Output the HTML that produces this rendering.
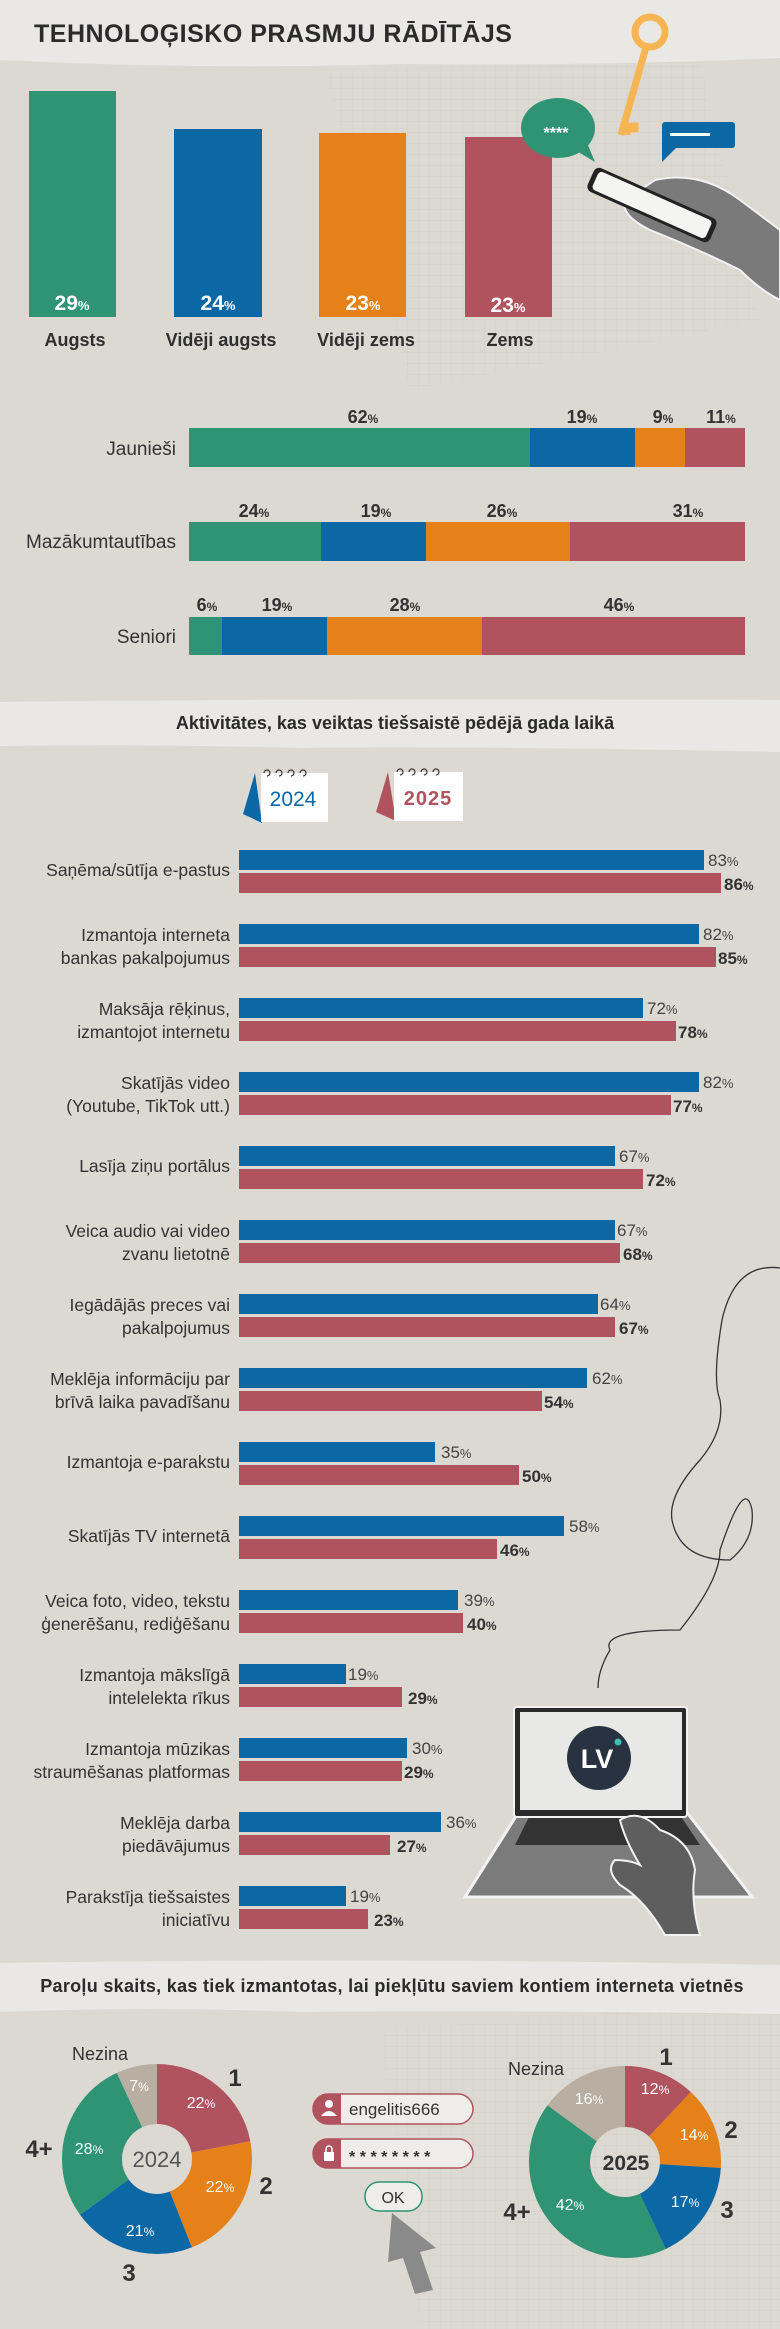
<!DOCTYPE html>
<html><head><meta charset="utf-8"><style>
html,body{margin:0;padding:0;background:#dcd9d2}
svg{display:block}
text{font-family:"Liberation Sans",sans-serif}
</style></head><body>
<svg width="780" height="2329" viewBox="0 0 780 2329" xmlns="http://www.w3.org/2000/svg">
<defs>
<pattern id="grid" width="11" height="11" patternUnits="userSpaceOnUse"><path d="M11 0H0V11" fill="none" stroke="#c9c6bf" stroke-width="0.7"/></pattern>
</defs>
<rect width="780" height="2329" fill="#dcd9d2"/>
<polygon points="325,70 700,62 760,320 410,390" fill="url(#grid)" opacity="0.7"/>
<polygon points="380,2030 780,2000 780,2329 420,2329" fill="url(#grid)" opacity="0.6"/>
<path d="M0 0H780V58Q600 66 400 64Q200 70 0 60Z" fill="#e9e8e4"/>
<text x="34" y="42" font-size="25" font-weight="bold" fill="#2b2b2b" letter-spacing="0.5">TEHNOLOĢISKO PRASMJU RĀDĪTĀJS</text>

<rect x="29" y="91" width="87" height="226" fill="#2e9474"/>
<rect x="174" y="129" width="88" height="188" fill="#0c67a5"/>
<rect x="319" y="133" width="87" height="184" fill="#e58119"/>
<rect x="465" y="137" width="87" height="180" fill="#b0535f"/>
<g font-size="21" font-weight="bold" fill="#fff" text-anchor="middle">
<text x="72" y="310">29<tspan font-size="13">%</tspan></text>
<text x="218" y="310">24<tspan font-size="13">%</tspan></text>
<text x="363" y="310">23<tspan font-size="13">%</tspan></text>
<text x="508" y="312">23<tspan font-size="13">%</tspan></text>
</g>
<g font-size="18" font-weight="bold" fill="#2f2f2f" text-anchor="middle">
<text x="75" y="346">Augsts</text>
<text x="221" y="346">Vidēji augsts</text>
<text x="366" y="346">Vidēji zems</text>
<text x="510" y="346">Zems</text>
</g>
<g>
<circle cx="650" cy="32" r="15" fill="none" stroke="#f6b552" stroke-width="7"/>
<path d="M646 47 L621 135" stroke="#f6b552" stroke-width="7"/>
<path d="M624 125h12v5h-8v5" fill="none" stroke="#f6b552" stroke-width="5"/>
<ellipse cx="558" cy="128" rx="37" ry="30" fill="#2e9474"/>
<path d="M575 150 L595 162 L585 138Z" fill="#2e9474"/>
<text x="556" y="138" font-size="16" font-weight="bold" fill="#fff" text-anchor="middle">****</text>
<rect x="662" y="122" width="73" height="26" rx="3" fill="#0c67a5"/>
<path d="M662 145 L662 162 L676 148Z" fill="#0c67a5"/>
<rect x="670" y="133" width="40" height="3" fill="#fff"/>
<path d="M655 180 Q700 170 740 200 L780 230 L780 300 Q760 290 740 270 Q700 250 650 230 Q620 215 625 200Z" fill="#7a7a7a" stroke="#f2f2f2" stroke-width="2"/>
<g transform="rotate(24 652 205)"><rect x="585" y="192" width="134" height="26" rx="6" fill="#222"/><rect x="590" y="195" width="124" height="20" rx="4" fill="#f4f4f2"/></g>
</g>

<g font-size="19" fill="#333" text-anchor="end">
<text x="176" y="455">Jaunieši</text>
<text x="176" y="548">Mazākumtautības</text>
<text x="176" y="643">Seniori</text>
</g>
<rect x="189" y="428" width="341" height="39" fill="#2e9474"/>
<rect x="530" y="428" width="105" height="39" fill="#0c67a5"/>
<rect x="635" y="428" width="50" height="39" fill="#e58119"/>
<rect x="685" y="428" width="60" height="39" fill="#b0535f"/>
<rect x="189" y="522" width="132" height="39" fill="#2e9474"/>
<rect x="321" y="522" width="105" height="39" fill="#0c67a5"/>
<rect x="426" y="522" width="144" height="39" fill="#e58119"/>
<rect x="570" y="522" width="175" height="39" fill="#b0535f"/>
<rect x="189" y="617" width="33" height="38" fill="#2e9474"/>
<rect x="222" y="617" width="105" height="38" fill="#0c67a5"/>
<rect x="327" y="617" width="155" height="38" fill="#e58119"/>
<rect x="482" y="617" width="263" height="38" fill="#b0535f"/>
<g font-size="18" font-weight="bold" fill="#333" text-anchor="middle">
<text x="363" y="423">62<tspan font-size="12">%</tspan></text>
<text x="582" y="423">19<tspan font-size="12">%</tspan></text>
<text x="663" y="423">9<tspan font-size="12">%</tspan></text>
<text x="721" y="423">11<tspan font-size="12">%</tspan></text>
<text x="254" y="517">24<tspan font-size="12">%</tspan></text>
<text x="376" y="517">19<tspan font-size="12">%</tspan></text>
<text x="502" y="517">26<tspan font-size="12">%</tspan></text>
<text x="688" y="517">31<tspan font-size="12">%</tspan></text>
<text x="207" y="611">6<tspan font-size="12">%</tspan></text>
<text x="277" y="611">19<tspan font-size="12">%</tspan></text>
<text x="405" y="611">28<tspan font-size="12">%</tspan></text>
<text x="619" y="611">46<tspan font-size="12">%</tspan></text>
</g>

<path d="M0 702Q300 698 780 700V752Q500 746 300 748Q150 744 0 746Z" fill="#e9e8e4"/>
<text x="395" y="729" font-size="18" font-weight="bold" fill="#2b2b2b" text-anchor="middle">Aktivitātes, kas veiktas tiešsaistē pēdējā gada laikā</text>
<path d="M255 773 L243 814 L262 823Z" fill="#0c67a5"/>
<rect x="261" y="773" width="67" height="49" fill="#fff"/>
<g fill="none" stroke="#333" stroke-width="1.2"><path d="M264 773a3 3 0 1 1 3 3M276 773a3 3 0 1 1 3 3M288 773a3 3 0 1 1 3 3M300 773a3 3 0 1 1 3 3"/></g>
<text x="293" y="806" font-size="21" fill="#0c67a5" text-anchor="middle">2024</text>
<path d="M388 772 L376 812 L396 821Z" fill="#b0535f"/>
<rect x="394" y="772" width="69" height="49" fill="#fff"/>
<g fill="none" stroke="#333" stroke-width="1.2"><path d="M397 772a3 3 0 1 1 3 3M409 772a3 3 0 1 1 3 3M421 772a3 3 0 1 1 3 3M433 772a3 3 0 1 1 3 3"/></g>
<text x="428" y="805" font-size="20" font-weight="bold" fill="#b0535f" text-anchor="middle" letter-spacing="1">2025</text>

<path d="M780 1268 Q735 1262 722 1320 Q712 1380 720 1400 Q725 1430 700 1460 Q668 1495 672 1520 Q680 1560 730 1560 Q755 1540 752 1510 Q745 1475 720 1550 Q720 1580 680 1630 Q600 1630 610 1650 Q598 1670 598 1688" fill="none" stroke="#333" stroke-width="1.3"/>

<g font-size="17.5" fill="#333" text-anchor="end">
<text x="230" y="876">Saņēma/sūtīja e-pastus</text>
<text x="230" y="941">Izmantoja interneta</text><text x="230" y="964">bankas pakalpojumus</text>
<text x="230" y="1015">Maksāja rēķinus,</text><text x="230" y="1038">izmantojot internetu</text>
<text x="230" y="1089">Skatījās video</text><text x="230" y="1112">(Youtube, TikTok utt.)</text>
<text x="230" y="1172">Lasīja ziņu portālus</text>
<text x="230" y="1237">Veica audio vai video</text><text x="230" y="1260">zvanu lietotnē</text>
<text x="230" y="1311">Iegādājās preces vai</text><text x="230" y="1334">pakalpojumus</text>
<text x="230" y="1385">Meklēja informāciju par</text><text x="230" y="1408">brīvā laika pavadīšanu</text>
<text x="230" y="1468">Izmantoja e-parakstu</text>
<text x="230" y="1542">Skatījās TV internetā</text>
<text x="230" y="1607">Veica foto, video, tekstu</text><text x="230" y="1630">ģenerēšanu, rediģēšanu</text>
<text x="230" y="1681">Izmantoja mākslīgā</text><text x="230" y="1704">intelelekta rīkus</text>
<text x="230" y="1755">Izmantoja mūzikas</text><text x="230" y="1778">straumēšanas platformas</text>
<text x="230" y="1829">Meklēja darba</text><text x="230" y="1852">piedāvājumus</text>
<text x="230" y="1903">Parakstīja tiešsaistes</text><text x="230" y="1926">iniciatīvu</text>
</g>
<g fill="#0c67a5">
<rect x="239" y="850" width="465" height="20"/>
<rect x="239" y="924" width="460" height="20"/>
<rect x="239" y="998" width="404" height="20"/>
<rect x="239" y="1072" width="460" height="20"/>
<rect x="239" y="1146" width="376" height="20"/>
<rect x="239" y="1220" width="376" height="20"/>
<rect x="239" y="1294" width="359" height="20"/>
<rect x="239" y="1368" width="348" height="20"/>
<rect x="239" y="1442" width="196" height="20"/>
<rect x="239" y="1516" width="325" height="20"/>
<rect x="239" y="1590" width="219" height="20"/>
<rect x="239" y="1664" width="107" height="20"/>
<rect x="239" y="1738" width="168" height="20"/>
<rect x="239" y="1812" width="202" height="20"/>
<rect x="239" y="1886" width="107" height="20"/>
</g>
<g fill="#b0535f">
<rect x="239" y="873" width="482" height="20"/>
<rect x="239" y="947" width="477" height="20"/>
<rect x="239" y="1021" width="437" height="20"/>
<rect x="239" y="1095" width="432" height="20"/>
<rect x="239" y="1169" width="404" height="20"/>
<rect x="239" y="1243" width="381" height="20"/>
<rect x="239" y="1317" width="376" height="20"/>
<rect x="239" y="1391" width="303" height="20"/>
<rect x="239" y="1465" width="280" height="20"/>
<rect x="239" y="1539" width="258" height="20"/>
<rect x="239" y="1613" width="224" height="20"/>
<rect x="239" y="1687" width="163" height="20"/>
<rect x="239" y="1761" width="163" height="20"/>
<rect x="239" y="1835" width="151" height="20"/>
<rect x="239" y="1909" width="129" height="20"/>
</g>
<g font-size="17" fill="#444">
<text x="708" y="866">83<tspan font-size="13">%</tspan></text>
<text x="703" y="940">82<tspan font-size="13">%</tspan></text>
<text x="647" y="1014">72<tspan font-size="13">%</tspan></text>
<text x="703" y="1088">82<tspan font-size="13">%</tspan></text>
<text x="619" y="1162">67<tspan font-size="13">%</tspan></text>
<text x="617" y="1236">67<tspan font-size="13">%</tspan></text>
<text x="600" y="1310">64<tspan font-size="13">%</tspan></text>
<text x="592" y="1384">62<tspan font-size="13">%</tspan></text>
<text x="441" y="1458">35<tspan font-size="13">%</tspan></text>
<text x="569" y="1532">58<tspan font-size="13">%</tspan></text>
<text x="464" y="1606">39<tspan font-size="13">%</tspan></text>
<text x="348" y="1680">19<tspan font-size="13">%</tspan></text>
<text x="412" y="1754">30<tspan font-size="13">%</tspan></text>
<text x="446" y="1828">36<tspan font-size="13">%</tspan></text>
<text x="350" y="1902">19<tspan font-size="13">%</tspan></text>
</g>
<g font-size="17" font-weight="bold" fill="#333">
<text x="724" y="890">86<tspan font-size="12">%</tspan></text>
<text x="718" y="964">85<tspan font-size="12">%</tspan></text>
<text x="678" y="1038">78<tspan font-size="12">%</tspan></text>
<text x="673" y="1112">77<tspan font-size="12">%</tspan></text>
<text x="646" y="1186">72<tspan font-size="12">%</tspan></text>
<text x="623" y="1260">68<tspan font-size="12">%</tspan></text>
<text x="619" y="1334">67<tspan font-size="12">%</tspan></text>
<text x="544" y="1408">54<tspan font-size="12">%</tspan></text>
<text x="522" y="1482">50<tspan font-size="12">%</tspan></text>
<text x="500" y="1556">46<tspan font-size="12">%</tspan></text>
<text x="467" y="1630">40<tspan font-size="12">%</tspan></text>
<text x="408" y="1704">29<tspan font-size="12">%</tspan></text>
<text x="404" y="1778">29<tspan font-size="12">%</tspan></text>
<text x="397" y="1852">27<tspan font-size="12">%</tspan></text>
<text x="374" y="1926">23<tspan font-size="12">%</tspan></text>
</g>

<path d="M520 1810 L685 1810 L752 1897 L465 1897Z" fill="#7b7b7b" stroke="#f2f2f2" stroke-width="3"/>
<path d="M530 1815 L680 1815 L700 1845 L515 1845Z" fill="#333"/>
<rect x="514" y="1707" width="173" height="110" rx="3" fill="#2a2a2a" stroke="#f2f2f2" stroke-width="2"/>
<rect x="520" y="1712" width="162" height="98" fill="#e8e8e6"/>
<circle cx="599" cy="1758" r="32" fill="#283240"/>
<text x="597" y="1768" font-family="Liberation Serif" font-size="27" font-weight="bold" fill="#fff" text-anchor="middle">LV</text>
<circle cx="618" cy="1742" r="3.5" fill="#3bbfb0"/>
<path d="M620 1820 Q640 1808 660 1830 Q690 1840 695 1870 Q690 1900 700 1935 L665 1935 Q645 1900 620 1885 Q605 1870 615 1860 Q630 1860 640 1865 Q625 1840 620 1820Z" fill="#5e5e5e" stroke="#f2f2f2" stroke-width="2"/>

<path d="M0 1963Q400 1957 780 1965V2014Q500 2010 300 2012Q150 2006 0 2012Z" fill="#e9e8e4"/>
<text x="392" y="1992" font-size="18" font-weight="bold" fill="#2b2b2b" text-anchor="middle" letter-spacing="0.3">Paroļu skaits, kas tiek izmantotas, lai piekļūtu saviem kontiem interneta vietnēs</text>

<g transform="rotate(-90 157 2159)" fill="none" stroke-width="60">
<circle cx="157" cy="2159" r="65" stroke="#b0535f" stroke-dasharray="89.85 400" stroke-dashoffset="0"/>
<circle cx="157" cy="2159" r="65" stroke="#e58119" stroke-dasharray="89.85 400" stroke-dashoffset="-89.85"/>
<circle cx="157" cy="2159" r="65" stroke="#0c67a5" stroke-dasharray="85.77 400" stroke-dashoffset="-179.7"/>
<circle cx="157" cy="2159" r="65" stroke="#2e9474" stroke-dasharray="114.35 400" stroke-dashoffset="-265.47"/>
<circle cx="157" cy="2159" r="65" stroke="#b8aea1" stroke-dasharray="28.6 400" stroke-dashoffset="-379.82"/>
</g>
<text x="157" y="2167" font-size="22" fill="#555" text-anchor="middle">2024</text>
<g font-size="16" fill="#fff" text-anchor="middle">
<text x="201" y="2108">22<tspan font-size="12">%</tspan></text>
<text x="220" y="2192">22<tspan font-size="12">%</tspan></text>
<text x="140" y="2236">21<tspan font-size="12">%</tspan></text>
<text x="89" y="2154">28<tspan font-size="12">%</tspan></text>
<text x="139" y="2091">7<tspan font-size="12">%</tspan></text>
</g>
<g font-size="24" font-weight="bold" fill="#333" text-anchor="middle">
<text x="235" y="2086">1</text><text x="266" y="2194">2</text><text x="129" y="2281">3</text><text x="39" y="2157">4+</text>
</g>
<text x="100" y="2060" font-size="18" fill="#333" text-anchor="middle">Nezina</text>

<g transform="rotate(-90 625 2162)" fill="none" stroke-width="61">
<circle cx="625" cy="2162" r="65.5" stroke="#b8aea1"/>
<circle cx="625" cy="2162" r="65.5" stroke="#b0535f" stroke-dasharray="49.4 420" stroke-dashoffset="0"/>
<circle cx="625" cy="2162" r="65.5" stroke="#e58119" stroke-dasharray="57.6 420" stroke-dashoffset="-49.4"/>
<circle cx="625" cy="2162" r="65.5" stroke="#0c67a5" stroke-dasharray="70 420" stroke-dashoffset="-107"/>
<circle cx="625" cy="2162" r="65.5" stroke="#2e9474" stroke-dasharray="172.8 420" stroke-dashoffset="-177"/>
</g>
<text x="626" y="2170" font-size="21" font-weight="bold" fill="#333" text-anchor="middle">2025</text>
<g font-size="16" fill="#fff" text-anchor="middle">
<text x="655" y="2094">12<tspan font-size="12">%</tspan></text>
<text x="694" y="2140">14<tspan font-size="12">%</tspan></text>
<text x="685" y="2207">17<tspan font-size="12">%</tspan></text>
<text x="570" y="2210">42<tspan font-size="12">%</tspan></text>
<text x="589" y="2104">16<tspan font-size="12">%</tspan></text>
</g>
<g font-size="24" font-weight="bold" fill="#333" text-anchor="middle">
<text x="666" y="2065">1</text><text x="731" y="2138">2</text><text x="727" y="2218">3</text><text x="517" y="2220">4+</text>
</g>
<text x="536" y="2075" font-size="18" fill="#333" text-anchor="middle">Nezina</text>

<rect x="313" y="2094" width="160" height="30" rx="15" fill="#eeede9" stroke="#b0535f" stroke-width="1.5"/>
<path d="M328 2094 H341 V2124 H328 A15 15 0 0 1 328 2094Z" fill="#b0535f"/>
<circle cx="329" cy="2104" r="4" fill="#fff"/><path d="M321 2116 Q329 2106 337 2116Z" fill="#fff"/>
<text x="349" y="2115" font-size="17" fill="#333">engelitis666</text>
<rect x="313" y="2139" width="160" height="29" rx="14.5" fill="#eeede9" stroke="#b0535f" stroke-width="1.5"/>
<path d="M328 2139 H341 V2168 H328 A14.5 14.5 0 0 1 328 2139Z" fill="#b0535f"/>
<rect x="324" y="2152" width="10" height="9" fill="#fff"/><path d="M326 2152v-3a3 3 0 0 1 6 0v3" fill="none" stroke="#fff" stroke-width="1.5"/>
<text x="349" y="2162" font-size="16" font-weight="bold" fill="#333" letter-spacing="4.5">********</text>
<rect x="365" y="2182" width="57" height="29" rx="14" fill="#eeede9" stroke="#2e9474" stroke-width="1.5"/>
<text x="393" y="2203" font-size="16" fill="#333" text-anchor="middle">OK</text>
<path d="M392 2213 L436 2248 L420 2252 L433 2290 L415 2294 L403 2258 L388 2262Z" fill="#8a8a8a"/>
</svg>
</body></html>
